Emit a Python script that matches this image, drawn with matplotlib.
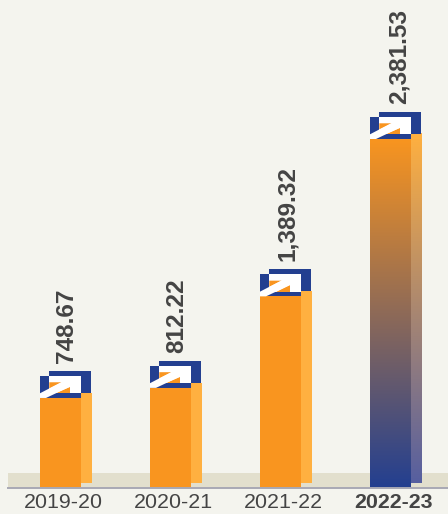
import matplotlib
matplotlib.use('Agg')
import matplotlib.pyplot as plt
import numpy as np
from matplotlib.colors import LinearSegmentedColormap
from matplotlib.patches import Polygon, Rectangle
from matplotlib.transforms import Affine2D

years = ['2019-20', '2020-21', '2021-22', '2022-23']
values = [748.67, 812.22, 1389.32, 2381.53]
value_labels = ['748.67', '812.22', '1,389.32', '2,381.53']

BG = '#F4F4EE'
BAND = '#E2DFCD'
ORANGE = '#F9951F'
ORANGE_SIDE = '#FFB040'
BLUE = '#233F90'
BLUE_SIDE = '#565FA0'
TEXT = '#444444'

plt.rcParams['font.family'] = ['Liberation Sans', 'DejaVu Sans']

fig = plt.figure(figsize=(4.48, 5.14), dpi=100, facecolor=BG)
ax = fig.add_axes([8 / 448, 26 / 514, 440 / 448, 488 / 514], facecolor=BG)

# axis starts above zero, 0.1586 px per crore
ymin = 181
px_y = 1 / 0.1586
px_x = 1 / 110
ax.set_xlim(-0.5, 3.5)
ax.set_ylim(ymin, ymin + 488 * px_y)

ax.axhspan(ymin, ymin + 15 * px_y, color=BAND, lw=0, zorder=0)

bar_w = 41 * px_x
left_shift = -23 * px_x
side_dx = 11 * px_x
side_dy = 5 * px_y


def gradient_fill(x0, x1, y0, y1, top, bottom, z):
    cmap = LinearSegmentedColormap.from_list('g', [bottom, top])
    ax.imshow(np.linspace(1, 0, 256).reshape(-1, 1), cmap=cmap, aspect='auto',
              extent=(x0, x1, y0, y1), zorder=z, interpolation='bilinear')


for i, v in enumerate(values):
    x0 = i + left_shift
    h = v - ymin
    last = i == len(values) - 1
    side = ax.bar(x0 + side_dx, h, bar_w, bottom=ymin + side_dy, align='edge',
                  color=ORANGE_SIDE, lw=0, zorder=1)
    front = ax.bar(x0, h, bar_w, bottom=ymin, align='edge',
                   color=ORANGE, lw=0, zorder=2)
    if last:
        side[0].set_visible(False)
        front[0].set_visible(False)
        gradient_fill(x0 + side_dx, x0 + side_dx + bar_w, ymin + side_dy, v + side_dy,
                      ORANGE_SIDE, BLUE_SIDE, 1)
        gradient_fill(x0, x0 + bar_w, ymin, v, ORANGE, BLUE, 2)

    # logo sitting on the bar, shapes are in pixels from the bar's top left corner
    ox, oy = ax.transData.transform((x0, v))
    logo = Affine2D().translate(ox, oy)
    shapes = [
        Rectangle((9.3, 0), 41.7, 27, color=BLUE, lw=0),
        Rectangle((0, 0), 41, 22, color=BLUE, lw=0),
        Rectangle((9.3, 4.7), 31.7, 17.3, color='white', lw=0),
        Polygon([(9.3, 15.7), (21.7, 15.7), (9.3, 9.5)], color=ORANGE, lw=0),
        Polygon([(30, 11.3), (30, 4.7), (16, 4.7)], color=ORANGE, lw=0),
        Polygon([(0, 0), (6, 0), (30, 11.3), (21.7, 16), (0, 4.7)], color='white', lw=0),
    ]
    for s in shapes:
        s.set_transform(logo)
        s.set_zorder(3)
        s.set_clip_on(False)
        ax.add_patch(s)
    # side face shows in front of the logo's back panel
    ax.add_patch(Rectangle((41, 0), 11, 5, color=ORANGE_SIDE, lw=0, zorder=4,
                           transform=logo, clip_on=False))

    ax.annotate(value_labels[i], (x0, v), xytext=(27 + (2 if last else 0), 35),
                textcoords='offset pixels', rotation=90, ha='center', va='bottom',
                fontsize=17.6, fontweight='bold', color=TEXT, zorder=5)

ax.set_xticks(range(len(years)))
ax.set_xticklabels(years, fontsize=15.4, color=TEXT)
ax.get_xticklabels()[-1].set_fontweight('bold')
ax.tick_params(axis='x', length=0, pad=3.5)
ax.set_yticks([])
for name in ['top', 'left', 'right']:
    ax.spines[name].set_visible(False)
ax.spines['bottom'].set_color('#A8A8B4')
ax.spines['bottom'].set_linewidth(1.4)
ax.spines['bottom'].set_zorder(6)

fig.savefig('out.png', dpi=100, facecolor=BG)
